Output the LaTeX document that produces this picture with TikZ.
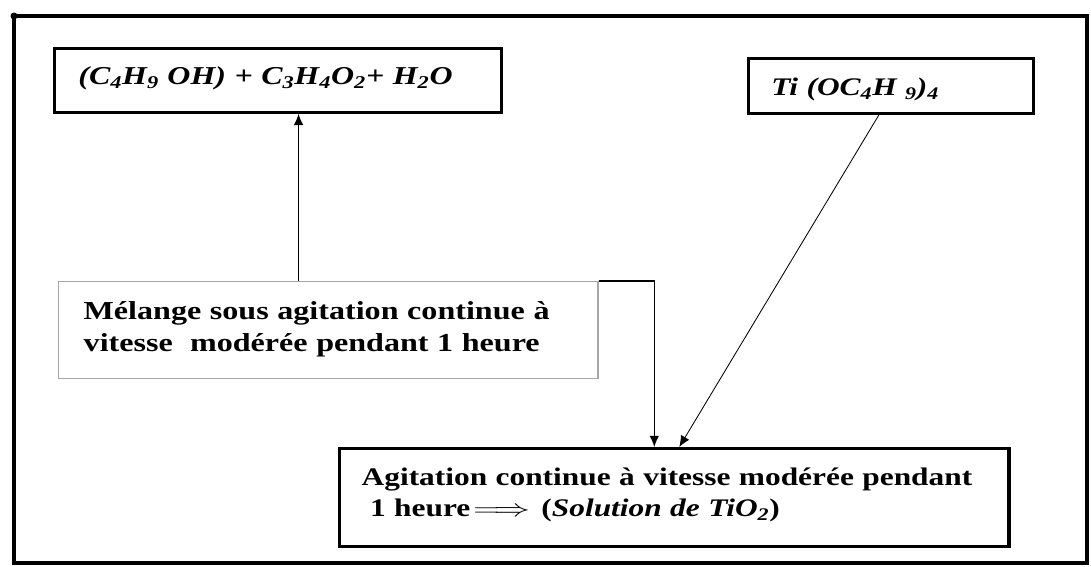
\documentclass[tikz,border=0pt]{standalone}
\usepackage{fontspec}
\usepackage{amsmath}
\usepackage{xcolor}
\setmainfont{Liberation Serif}[FakeStretch=1.24]
\usetikzlibrary{calc,
	positioning,
	arrows,
	arrows.meta}

\begin{document}
\begin{tikzpicture}[x=0.025cm, y=-0.025cm,
        box/.style={draw, line width=2pt, rectangle, anchor=north west, align=left, inner ysep=0pt,
            font=\fontsize{18}{22}\selectfont\bfseries},
        lien/.style={-{Latex[length=2.8mm, width=2.4mm]}, line width=0.8pt}]
            \useasboundingbox (0,0) rectangle (1091,566);
            \draw[line width=2.6pt] (14,16) rectangle (1087,563);
            \fill (14,16) circle (3.5);

            \node[box, font=\fontsize{18.3}{22}\selectfont\bfseries, inner xsep=0.6cm, text width=9.975cm, text height=0.9cm, text depth=0.7cm] (reac) at (53,47)
                {\mbox{\textit{(C\textsubscript{4}H\textsubscript{9} OH) + C\textsubscript{3}H\textsubscript{4}O\textsubscript{2}+ H\textsubscript{2}O}}};
            \node[box, inner xsep=0.575cm, text width=5.975cm, text height=0.925cm, text depth=0.45cm] (ti) at (747,57)
                {\mbox{\textit{Ti (OC\textsubscript{4}H \textsubscript{9})\textsubscript{4}}}};
            \node[box, font=\fontsize{18.4}{22.4}\selectfont\bfseries, draw=gray!70, line width=1pt, inner xsep=0.625cm, text width=12.225cm, text height=0.95cm, text depth=1.475cm] (melange) at (58,281)
                {M\'elange sous agitation continue \`a\\vitesse\ \ mod\'er\'ee pendant 1 heure};
            \node[box, line width=2.4pt, inner xsep=0.55cm, text width=15.625cm, text height=0.925cm, text depth=1.525cm] (agit) at (338,447)
                {Agitation continue \`a vitesse mod\'er\'ee pendant\\\ 1 heure\hspace{0.12em}\scalebox{1.5}[1]{$\Longrightarrow$}\hspace{0.45em}(\textit{Solution de TiO\textsubscript{2}})};

            \coordinate (m1) at ($(melange.north west)!0.445!(melange.north east)$);
            \draw[lien] (m1) -- (m1 |- reac.south);
            \draw[lien] (melange.north east) -| ($(agit.north)+(-20,0)$);
            \draw[lien, line width=0.6pt] ($(ti.south)+(-12,0)$) -- ($(agit.north)+(5,0)$);
        \end{tikzpicture}
\end{document}
